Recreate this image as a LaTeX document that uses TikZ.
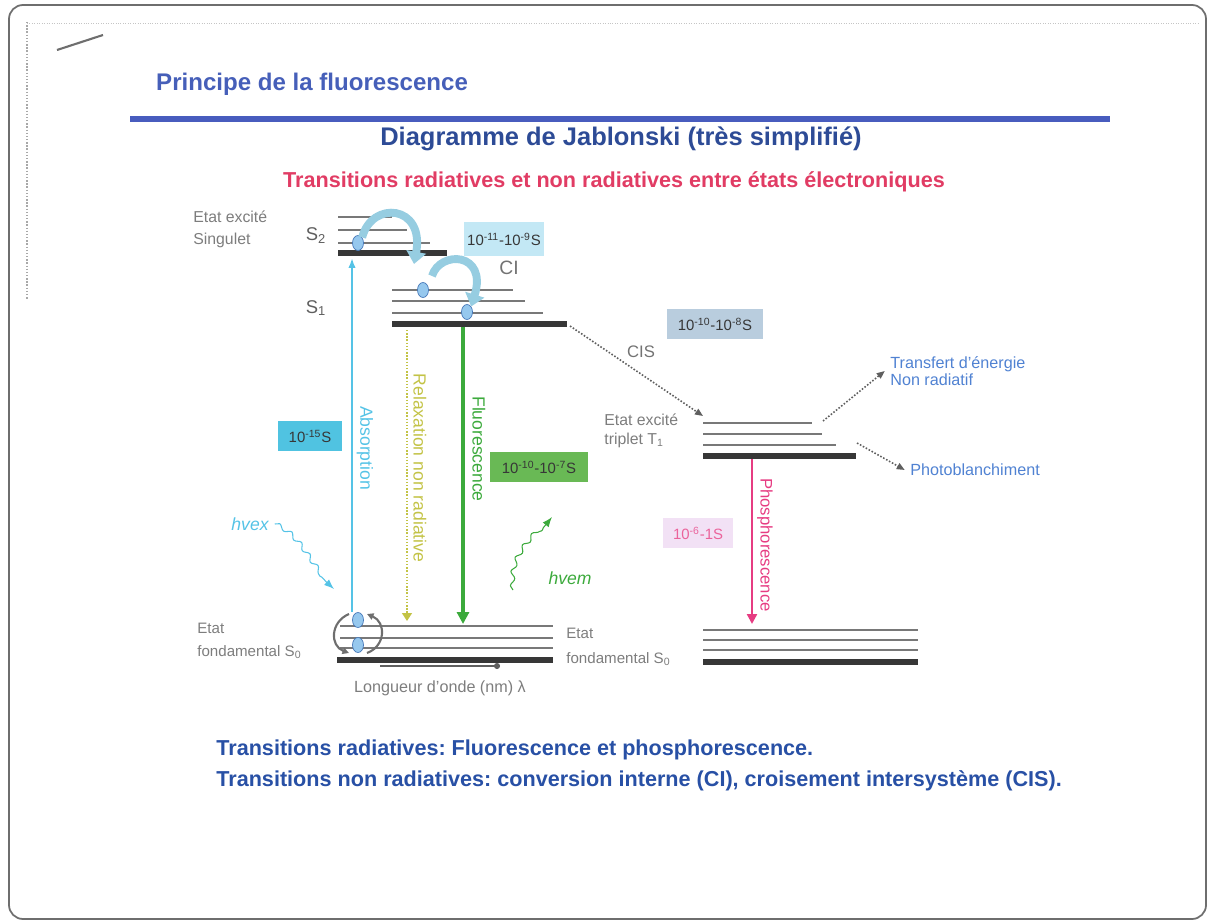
\documentclass[tikz,border=0pt]{standalone}
\usepackage{fontspec}
\setmainfont{Liberation Sans}
\frenchspacing
\usetikzlibrary{arrows.meta,positioning,calc,shapes.geometric,decorations.pathmorphing}
\definecolor{FrameGray}{RGB}{110,110,110}
\definecolor{TitleBlue}{RGB}{70,95,185}
\definecolor{RuleBlue}{RGB}{72,92,190}
\definecolor{DiagBlue}{RGB}{45,75,150}
\definecolor{SubRed}{RGB}{225,60,100}
\definecolor{NoteBlue}{RGB}{40,80,165}
\definecolor{TxtGray}{RGB}{125,125,125}
\definecolor{LevelGray}{RGB}{120,120,120}
\definecolor{LevelDark}{RGB}{55,55,55}
\definecolor{AbsCyan}{RGB}{85,195,230}
\definecolor{FluoGreen}{RGB}{60,170,60}
\definecolor{RelaxYellow}{RGB}{195,195,70}
\definecolor{PhosPink}{RGB}{230,60,130}
\definecolor{TransBlue}{RGB}{80,130,210}
\definecolor{CiLight}{RGB}{150,205,225}
\definecolor{ElecBlue}{RGB}{150,200,238}
\definecolor{ElecEdge}{RGB}{70,120,185}
\definecolor{BoxA}{RGB}{195,232,245}
\definecolor{BoxB}{RGB}{185,205,222}
\definecolor{BoxC}{RGB}{80,195,225}
\definecolor{BoxD}{RGB}{105,185,85}
\definecolor{BoxE}{RGB}{242,225,245}
\tikzset{
  >={Latex[length=2mm]},
  level/.style={draw=LevelGray,line width=1.1pt},
  baselevel/.style={draw=LevelDark,line width=3.2pt},
  timebox/.style={inner sep=2pt,minimum height=17pt,text=LevelDark,font=\fontsize{8.5}{10}\selectfont},
  graytxt/.style={text=TxtGray,align=left,inner sep=0pt,font=\fontsize{9}{12.5}\selectfont},
  vlabel/.style={rotate=-90,inner sep=0pt,font=\fontsize{10}{12}\selectfont},
  electron/.style={ellipse,draw=ElecEdge,fill=ElecBlue,minimum width=0.22cm,minimum height=0.3cm,inner sep=0pt},
  cisarrow/.style={-{Triangle[length=1.6mm,width=1.3mm]},densely dotted,line width=0.9pt,draw=LevelDark!80},
  ciarrow/.style={-{Triangle[length=7pt,width=11pt]},line width=4.5pt,draw=CiLight},
  spin/.style={-{Triangle[length=1.3mm,width=1.3mm]},line width=1.2pt,draw=FrameGray},
  photon/.style={->,decorate,decoration={snake,amplitude=1.3pt,segment length=8pt,post length=2mm},line width=0.6pt},
}
\begin{document}
\begin{tikzpicture}[x=0.02cm,y=-0.02cm]
\useasboundingbox (0,0) rectangle (1212,922);
% cadre de la page
\draw[FrameGray,line width=1pt,rounded corners=8pt] (9,5) rectangle (1206,919);
\draw[FrameGray!60,densely dotted,line width=0.8pt] (27,22) -- (27,300);
\draw[FrameGray!40,densely dotted] (27,23) -- (1200,23);
\draw[FrameGray,line width=1.2pt] (57,50) -- (103,35);

% titres
\node[anchor=west,font=\bfseries\fontsize{13.7}{16}\selectfont,text=TitleBlue] (titre) at (150,84) {Principe de la fluorescence};
\draw[RuleBlue,line width=3.4pt] (130,119) -- (1110,119);
\node[font=\bfseries\fontsize{14.5}{17}\selectfont,text=DiagBlue] (diag) at (621,139) {Diagramme de Jablonski (très simplifié)};
\node[font=\bfseries\fontsize{12.3}{14}\selectfont,text=SubRed] (sous) at (614,182) {Transitions radiatives et non radiatives entre états électroniques};

% niveaux d'energie
\foreach \y/\xe in {217/392,230/407,243/430} \draw[level] (338,\y) -- (\xe,\y);
\draw[baselevel] (338,253) -- (447,253);
\foreach \y/\xe in {290/513,301/525,313/543} \draw[level] (392,\y) -- (\xe,\y);
\draw[baselevel] (392,324) -- (567,324);
\foreach \y/\xe in {423/812,434/822,445/836} \draw[level] (703,\y) -- (\xe,\y);
\draw[baselevel] (703,456) -- (856,456);
\foreach \y in {626,638,648} \draw[level] (340,\y) -- (553,\y);
\draw[baselevel] (337,660) -- (553,660);
\foreach \y in {630,640,650} \draw[level] (703,\y) -- (918,\y);
\draw[baselevel] (703,662) -- (918,662);

% etiquettes des etats
\node[graytxt,anchor=west] (singulet) at (193,229) {Etat excité\\Singulet};
\node[text=LevelDark!80,font=\fontsize{10.5}{12}\selectfont] (s2) at (316,236) {S\textsubscript{2}};
\node[text=LevelDark!80,font=\fontsize{10.5}{12}\selectfont] (s1) at (316,308) {S\textsubscript{1}};
\node[graytxt,anchor=west,font=\fontsize{9}{11}\selectfont] (triplet) at (604,431) {Etat excité\\triplet T\textsubscript{1}};
\node[graytxt,anchor=west,font=\fontsize{8.6}{13}\selectfont] (fondg) at (197,641) {Etat\\fondamental S\textsubscript{0}};
\node[graytxt,anchor=west,font=\fontsize{8.6}{14}\selectfont] (fondd) at (566,647) {Etat\\fondamental S\textsubscript{0}};

% electrons
\node[electron] (e2) at (358,243) {};
\node[electron] (e1a) at (423,290) {};
\node[electron] (e1b) at (467,312) {};
\node[electron] (e0a) at (358,620) {};
\node[electron] (e0b) at (358,645) {};

% conversion interne
\draw[ciarrow] (e2.north east) .. controls (372,200) and (425,205) .. (414,264);
\draw[ciarrow] (432,276) .. controls (440,250) and (488,252) .. (e1b.north east);
\node[text=LevelDark!70,font=\fontsize{11}{13}\selectfont] (ci) at (509,268) {CI};
\draw[spin] (349,614) .. controls (330,622) and (330,646) .. (349,653);
\draw[spin] (367,653) .. controls (386,646) and (386,622) .. (367,614);

% transitions verticales
\coordinate (absbas) at (352,612);
\coordinate (abshaut) at (352,258);
\draw[->,AbsCyan,line width=1.6pt] (absbas) -- (abshaut);
\node[vlabel,text=AbsCyan] (labs) at (365,448) {Absorption};
\coordinate (relhaut) at (407,330);
\coordinate (relbas) at (407,621);
\draw[-{Triangle[length=1.6mm,width=2mm]},RelaxYellow,densely dotted,line width=0.8pt] (relhaut) -- (relbas);
\node[vlabel,text=RelaxYellow] (lrel) at (420,468) {Relaxation non radiative};
\coordinate (fluohaut) at (463,327);
\coordinate (fluobas) at (463,624);
\draw[-{Triangle[length=2.4mm,width=2.4mm]},FluoGreen,line width=1.8pt] (fluohaut) -- (fluobas);
\node[vlabel,text=FluoGreen] (lfluo) at (479,449) {Fluorescence};
\coordinate (phoshaut) at (752,459);
\coordinate (phosbas) at (752,624);
\draw[-{Triangle[length=2mm,width=2mm]},PhosPink,line width=1.3pt] (phoshaut) -- (phosbas);
\node[vlabel,text=PhosPink,font=\fontsize{9.5}{11}\selectfont] (lphos) at (765,545) {Phosphorescence};

% croisement intersysteme et voies de sortie
\coordinate (s1fin) at (570,326);
\coordinate (t1debut) at (703,416);
\draw[cisarrow] (s1fin) -- (t1debut);
\node[text=LevelDark!70,font=\fontsize{9.5}{11}\selectfont] (cis) at (641,352) {CIS};
\node[anchor=west,align=left,text=TransBlue,inner sep=0pt,font=\fontsize{9.2}{10}\selectfont] (transfert) at (890,371) {Transfert d'énergie\\Non radiatif};
\node[anchor=west,text=TransBlue,inner sep=0pt,font=\fontsize{9.2}{10}\selectfont] (photo) at (910,470) {Photoblanchiment};
\coordinate (tr0) at (823,421);
\coordinate (pb0) at (857,443);
\draw[cisarrow] (tr0) -- ([xshift=-3pt]transfert.west);
\draw[cisarrow] (pb0) -- ([xshift=-3pt]photo.west);

% durees
\node[timebox,fill=BoxA,minimum width=46pt,minimum height=19pt] (ta) at (504,239) {10\textsuperscript{-11}-10\textsuperscript{-9}S};
\node[timebox,fill=BoxB,minimum width=55pt] (tb) at (715,324) {10\textsuperscript{-10}-10\textsuperscript{-8}S};
\node[timebox,fill=BoxC,minimum width=36pt] (tc) at (310,436) {10\textsuperscript{-15}S};
\node[timebox,fill=BoxD,minimum width=56pt] (td) at (539,467) {10\textsuperscript{-10}-10\textsuperscript{-7}S};
\node[timebox,fill=BoxE,minimum width=40pt,text=PhosPink!80] (te) at (698,533) {10\textsuperscript{-6}-1S};

% photons
\node[text=AbsCyan,font=\itshape\fontsize{10}{12}\selectfont] (hvex) at (250,524) {hvex};
\coordinate (hvexfin) at (334,589);
\draw[photon,AbsCyan] (hvex.east) .. controls (300,535) and (310,570) .. (hvexfin);
\node[text=FluoGreen,font=\itshape\fontsize{10}{12}\selectfont] (hvem) at (570,578) {hvem};
\coordinate (hvemdeb) at (513,590);
\coordinate (hvemfin) at (552,517);
\draw[photon,FluoGreen] (hvemdeb) .. controls (510,555) and (535,540) .. (hvemfin);

% longueur d'onde
\coordinate (lamb0) at (380,666);
\coordinate (lamb1) at (500,666);
\draw[-{Circle[length=1.2mm]},LevelDark!80,line width=0.8pt] (lamb0) -- (lamb1);
\node[text=TxtGray,font=\fontsize{9.2}{11}\selectfont] (lamb) at (440,688) {Longueur d'onde (nm) λ};

% bilan
\node[anchor=west,align=left,text=NoteBlue,inner sep=0pt,font=\bfseries\fontsize{12.3}{17.6}\selectfont] (bilan) at (216,765) {Transitions radiatives: Fluorescence et phosphorescence.\\Transitions non radiatives: conversion interne (CI), croisement intersystème (CIS).};
\end{tikzpicture}
\end{document}
